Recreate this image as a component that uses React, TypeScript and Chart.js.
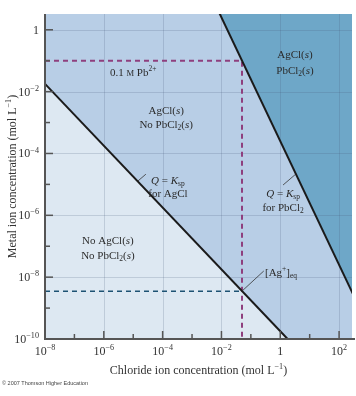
import React, { useEffect, useRef } from "react";
import { Chart, registerables } from "chart.js";

Chart.register(...registerables);

// ---- data ----
const chlorideMin = 1e-8;
const chlorideMax = 275;
const metalMin = 1e-10;
const metalMax = 3.24;

const chlorideMajorExps = [-8, -6, -4, -2, 0, 2];
const chlorideMinorExps = [-7, -5, -3, -1, 1];
const metalMajorExps = [0, -2, -4, -6, -8, -10];
const metalMinorExps = [-1, -3, -5, -7, -9];

// Q = Ksp for AgCl  (end points of the boundary)
const agclChloride = [1e-8, 1.78];
const agclMetal = [1.78e-2, 1e-10];
// Q = Ksp for PbCl2 (end points, extended beyond the frame)
const pbcl2Chloride = [1e-3, 1e3];
const pbcl2Metal = [251, 2.51e-10];
// 0.1 M Pb2+ guide
const leadGuideChloride = [1e-8, 0.05, 0.05];
const leadGuideMetal = [0.1, 0.1, 1e-10];
// [Ag+]eq guide
const silverGuideChloride = [1e-8, 0.05];
const silverGuideMetal = [3.5e-9, 3.5e-9];

// ---- styles ----
const LIGHT = "#dde8f2";
const MEDIUM = "#b8cee6";
const DARK = "#6ea7c8";
const GRID = "rgba(70,90,120,0.2)";
const AXIS = "#555555";
const TEXT = "#2b2b2b";
const SERIF = '"Liberation Serif", "DejaVu Serif", serif';

type Seg = { t: string; i?: boolean; p?: boolean; b?: boolean; c?: boolean };

function segSize(s: Seg, size: number) {
  if (s.p || s.b) return size * 0.68;
  if (s.c) return size * 0.78;
  return size;
}
function segFont(s: Seg, size: number) {
  return `${s.i ? "italic " : ""}${segSize(s, size)}px ${SERIF}`;
}

function drawRich(
  ctx: CanvasRenderingContext2D,
  segs: Seg[],
  x: number,
  y: number,
  align: "left" | "center" | "right",
  size: number,
  color = TEXT
) {
  ctx.save();
  ctx.textBaseline = "alphabetic";
  ctx.textAlign = "left";
  ctx.fillStyle = color;
  let total = 0;
  const widths = segs.map((s) => {
    ctx.font = segFont(s, size);
    const w = ctx.measureText(s.t).width;
    total += w;
    return w;
  });
  let cx = align === "left" ? x : align === "center" ? x - total / 2 : x - total;
  const base = y + size * 0.33;
  segs.forEach((s, k) => {
    ctx.font = segFont(s, size);
    let dy = 0;
    if (s.p) dy = -size * 0.4;
    if (s.b) dy = size * 0.22;
    ctx.fillText(s.t, cx, base + dy);
    cx += widths[k];
  });
  ctx.restore();
}

const pow = (e: number) => Math.pow(10, e);

function expLabel(e: number): Seg[] {
  if (e === 0) return [{ t: "1" }];
  if (e === 1) return [{ t: "10" }];
  return [{ t: "10" }, { t: (e < 0 ? "\u2212" : "") + Math.abs(e), p: true }];
}

type Note = { lx: number; ly: number; align: "left" | "center"; segs: Seg[] };
const notes: Note[] = [
  { lx: -5.79, ly: -1.37, align: "left", segs: [{ t: "0.1 " }, { t: "M", c: true }, { t: " Pb" }, { t: "2+", p: true }] },
  { lx: 0.5, ly: -0.78, align: "center", segs: [{ t: "AgCl(" }, { t: "s", i: true }, { t: ")" }] },
  { lx: 0.5, ly: -1.3, align: "center", segs: [{ t: "PbCl" }, { t: "2", b: true }, { t: "(" }, { t: "s", i: true }, { t: ")" }] },
  { lx: -3.88, ly: -2.6, align: "center", segs: [{ t: "AgCl(" }, { t: "s", i: true }, { t: ")" }] },
  { lx: -3.88, ly: -3.05, align: "center", segs: [{ t: "No PbCl" }, { t: "2", b: true }, { t: "(" }, { t: "s", i: true }, { t: ")" }] },
  { lx: -3.82, ly: -4.86, align: "center", segs: [{ t: "Q", i: true }, { t: " = " }, { t: "K", i: true }, { t: "sp", b: true }] },
  { lx: -3.82, ly: -5.28, align: "center", segs: [{ t: "for AgCl" }] },
  { lx: 0.095, ly: -5.28, align: "center", segs: [{ t: "Q", i: true }, { t: " = " }, { t: "K", i: true }, { t: "sp", b: true }] },
  { lx: 0.095, ly: -5.73, align: "center", segs: [{ t: "for PbCl" }, { t: "2", b: true }] },
  { lx: -0.52, ly: -7.83, align: "left", segs: [{ t: "[Ag" }, { t: "+", p: true }, { t: "]" }, { t: "eq", b: true }] },
  { lx: -5.86, ly: -6.8, align: "center", segs: [{ t: "No AgCl(" }, { t: "s", i: true }, { t: ")" }] },
  { lx: -5.86, ly: -7.28, align: "center", segs: [{ t: "No PbCl" }, { t: "2", b: true }, { t: "(" }, { t: "s", i: true }, { t: ")" }] },
];
const leaders = [
  [-4.84, -4.89, -4.57, -4.67],
  [0.095, -5.02, 0.5, -4.69],
  [-1.3, -8.45, -0.56, -7.8],
];

const phasePlugin = {
  id: "phase",
  beforeDraw(chart: any) {
    const { ctx, chartArea: a } = chart;
    ctx.save();
    ctx.fillStyle = MEDIUM;
    ctx.fillRect(a.left, a.top, a.right - a.left, a.bottom - a.top);
    ctx.restore();
  },
  beforeDatasetsDraw(chart: any) {
    const { ctx, chartArea: a, scales } = chart;
    const xs = scales.x, ys = scales.y;
    ctx.save();
    ctx.strokeStyle = GRID;
    ctx.lineWidth = 1;
    chlorideMajorExps.forEach((e) => {
      const px = Math.round(xs.getPixelForValue(pow(e))) + 0.5;
      if (px <= a.left + 1) return;
      ctx.beginPath();
      ctx.moveTo(px, a.top);
      ctx.lineTo(px, a.bottom);
      ctx.stroke();
    });
    metalMajorExps.forEach((e) => {
      const py = Math.round(ys.getPixelForValue(pow(e))) + 0.5;
      if (py >= a.bottom - 1) return;
      ctx.beginPath();
      ctx.moveTo(a.left, py);
      ctx.lineTo(a.right, py);
      ctx.stroke();
    });
    ctx.restore();
  },
  afterDatasetsDraw(chart: any) {
    const { ctx, chartArea: a, scales } = chart;
    const xs = scales.x, ys = scales.y;
    ctx.save();
    // leaders
    ctx.strokeStyle = "#333";
    ctx.lineWidth = 0.8;
    leaders.forEach(([x1, y1, x2, y2]) => {
      ctx.beginPath();
      ctx.moveTo(xs.getPixelForValue(pow(x1)), ys.getPixelForValue(pow(y1)));
      ctx.lineTo(xs.getPixelForValue(pow(x2)), ys.getPixelForValue(pow(y2)));
      ctx.stroke();
    });
    // axes
    ctx.strokeStyle = AXIS;
    ctx.lineWidth = 2;
    ctx.beginPath();
    ctx.moveTo(a.left, a.top);
    ctx.lineTo(a.left, a.bottom);
    ctx.lineTo(a.right + 3, a.bottom);
    ctx.stroke();
    // ticks
    ctx.lineWidth = 1.5;
    const xt = (e: number, len: number) => {
      const px = xs.getPixelForValue(pow(e));
      ctx.beginPath();
      ctx.moveTo(px, a.bottom);
      ctx.lineTo(px, a.bottom - len);
      ctx.stroke();
    };
    const yt = (e: number, len: number) => {
      const py = ys.getPixelForValue(pow(e));
      ctx.beginPath();
      ctx.moveTo(a.left, py);
      ctx.lineTo(a.left + len, py);
      ctx.stroke();
    };
    chlorideMajorExps.forEach((e) => e > -8 && xt(e, 8));
    chlorideMinorExps.forEach((e) => xt(e, 5));
    metalMajorExps.forEach((e) => e > -10 && yt(e, 8));
    metalMinorExps.forEach((e) => yt(e, 5));
    // tick labels
    chlorideMajorExps.forEach((e) => {
      drawRich(ctx, expLabel(e), xs.getPixelForValue(pow(e)), a.bottom + 12, "center", 12, "#333");
    });
    metalMajorExps.forEach((e) => {
      drawRich(ctx, expLabel(e), a.left - 6, ys.getPixelForValue(pow(e)), "right", 12, "#333");
    });
    // notes
    notes.forEach((n) => {
      drawRich(ctx, n.segs, xs.getPixelForValue(pow(n.lx)), ys.getPixelForValue(pow(n.ly)), n.align, 11);
    });
    // axis titles
    drawRich(
      ctx,
      [{ t: "Chloride ion concentration (mol L" }, { t: "\u22121", p: true }, { t: ")" }],
      (a.left + a.right) / 2,
      a.bottom + 31,
      "center",
      12,
      "#333"
    );
    ctx.save();
    ctx.translate(12, (a.top + a.bottom) / 2);
    ctx.rotate(-Math.PI / 2);
    drawRich(
      ctx,
      [{ t: "Metal ion concentration (mol L" }, { t: "\u22121", p: true }, { t: ")" }],
      0,
      0,
      "center",
      12,
      "#333"
    );
    ctx.restore();
    // credit
    ctx.fillStyle = "#444";
    ctx.font = '5.5px "Liberation Sans", Arial, sans-serif';
    ctx.textBaseline = "middle";
    ctx.textAlign = "left";
    ctx.fillText("\u00a9 2007 Thomson Higher Education", 2, 383);
    ctx.restore();
  },
};

const pts = (xs: number[], ys: number[]) => xs.map((x, k) => ({ x, y: ys[k] }));

export default function App() {
  const ref = useRef<HTMLCanvasElement | null>(null);
  useEffect(() => {
    if (!ref.current) return;
    const chart = new Chart(ref.current, {
      type: "line",
      data: {
        datasets: [
          {
            data: pts(agclChloride, agclMetal),
            borderColor: "#1a1a1a",
            borderWidth: 2,
            backgroundColor: LIGHT,
            fill: "start",
            pointRadius: 0,
            clip: 0,
          } as any,
          {
            data: pts(pbcl2Chloride, pbcl2Metal),
            borderColor: "#1a1a1a",
            borderWidth: 2,
            backgroundColor: DARK,
            fill: "end",
            pointRadius: 0,
            clip: 0,
          } as any,
          {
            data: pts(leadGuideChloride, leadGuideMetal),
            borderColor: "#8e3f7e",
            borderWidth: 2,
            borderDash: [5, 4],
            fill: false,
            pointRadius: 0,
            clip: 0,
          } as any,
          {
            data: pts(silverGuideChloride, silverGuideMetal),
            borderColor: "#1d5273",
            borderWidth: 1.6,
            borderDash: [5, 4],
            fill: false,
            pointRadius: 0,
            clip: 0,
          } as any,
        ],
      },
      options: {
        responsive: false,
        animation: false,
        events: [],
        layout: { padding: { left: 45, top: 14, right: 4, bottom: 57 } },
        plugins: {
          legend: { display: false },
          tooltip: { enabled: false },
          filler: { drawTime: "beforeDatasetsDraw" },
        } as any,
        scales: {
          x: { type: "logarithmic", min: chlorideMin, max: chlorideMax, display: false },
          y: { type: "logarithmic", min: metalMin, max: metalMax, display: false },
        },
      },
      plugins: [phasePlugin],
    });
    return () => chart.destroy();
  }, []);
  return (
    <div style={{ position: "absolute", left: 0, top: 0, width: 356, height: 396, background: "#fff" }}>
      <canvas ref={ref} width={356} height={396} style={{ width: 356, height: 396, display: "block" }} />
    </div>
  );
}
